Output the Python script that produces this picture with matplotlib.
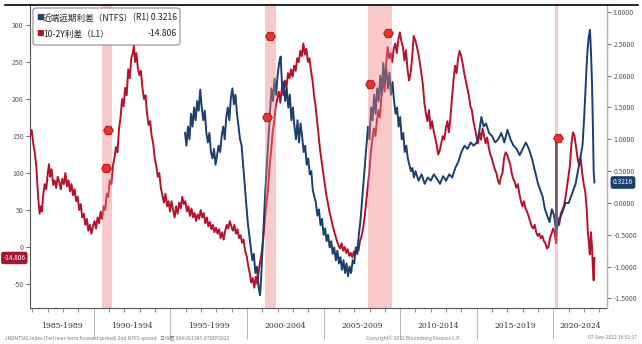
import matplotlib.pyplot as plt
from matplotlib.patches import FancyBboxPatch
from matplotlib.lines import Line2D
import matplotlib.transforms as mtransforms

plt.rcParams['font.family'] = ['Noto Sans CJK SC', 'DejaVu Sans']

# 10-2Y 利差 (bp), 左轴
red_t = [1985.84, 1985.95, 1986.05, 1986.15, 1986.25, 1986.32, 1986.40, 1986.47, 1986.55, 1986.62,
         1986.70, 1986.80, 1986.90, 1987.00, 1987.08, 1987.15, 1987.25, 1987.35, 1987.45, 1987.55,
         1987.65, 1987.75, 1987.85, 1987.95, 1988.05, 1988.15, 1988.25, 1988.35, 1988.45, 1988.55,
         1988.65, 1988.75, 1988.85, 1988.95, 1989.05, 1989.15, 1989.25, 1989.35, 1989.45, 1989.55,
         1989.65, 1989.75, 1989.85, 1989.95, 1990.05, 1990.15, 1990.25, 1990.35, 1990.45, 1990.55,
         1990.65, 1990.75, 1990.85, 1990.95, 1991.05, 1991.15, 1991.25, 1991.35, 1991.45, 1991.55,
         1991.65, 1991.75, 1991.85, 1991.95, 1992.05, 1992.15, 1992.25, 1992.35, 1992.45, 1992.55,
         1992.62, 1992.70, 1992.78, 1992.88, 1992.98, 1993.08, 1993.18, 1993.28, 1993.38, 1993.48,
         1993.58, 1993.68, 1993.78, 1993.88, 1993.98, 1994.08, 1994.18, 1994.28, 1994.38, 1994.48,
         1994.58, 1994.68, 1994.78, 1994.88, 1994.98, 1995.08, 1995.18, 1995.28, 1995.38, 1995.48,
         1995.58, 1995.68, 1995.78, 1995.88, 1995.98, 1996.08, 1996.18, 1996.28, 1996.38, 1996.48,
         1996.58, 1996.68, 1996.78, 1996.88, 1996.98, 1997.08, 1997.18, 1997.28, 1997.38, 1997.48,
         1997.58, 1997.68, 1997.78, 1997.88, 1997.98, 1998.08, 1998.18, 1998.28, 1998.38, 1998.48,
         1998.58, 1998.68, 1998.78, 1998.88, 1998.98, 1999.08, 1999.18, 1999.28, 1999.38, 1999.48,
         1999.58, 1999.68, 1999.78, 1999.88, 1999.98, 2000.08, 2000.18, 2000.28, 2000.38, 2000.48,
         2000.58, 2000.68, 2000.78, 2000.88, 2000.98, 2001.08, 2001.18, 2001.28, 2001.38, 2001.48,
         2001.58, 2001.68, 2001.78, 2001.88, 2001.98, 2002.08, 2002.18, 2002.28, 2002.38, 2002.48,
         2002.58, 2002.68, 2002.78, 2002.88, 2002.98, 2003.08, 2003.18, 2003.28, 2003.38, 2003.48,
         2003.58, 2003.68, 2003.78, 2003.88, 2003.98, 2004.08, 2004.18, 2004.28, 2004.38, 2004.48,
         2004.58, 2004.68, 2004.78, 2004.88, 2004.98, 2005.08, 2005.18, 2005.28, 2005.38, 2005.48,
         2005.58, 2005.68, 2005.78, 2005.88, 2005.98, 2006.08, 2006.18, 2006.28, 2006.38, 2006.48,
         2006.58, 2006.68, 2006.78, 2006.88, 2006.98, 2007.08, 2007.18, 2007.28, 2007.38, 2007.48,
         2007.58, 2007.68, 2007.78, 2007.88, 2007.98, 2008.08, 2008.18, 2008.28, 2008.38, 2008.48,
         2008.58, 2008.68, 2008.78, 2008.88, 2008.98, 2009.08, 2009.18, 2009.28, 2009.38, 2009.48,
         2009.58, 2009.68, 2009.78, 2009.88, 2009.98, 2010.08, 2010.18, 2010.28, 2010.38, 2010.48,
         2010.58, 2010.68, 2010.78, 2010.88, 2010.98, 2011.08, 2011.18, 2011.28, 2011.38, 2011.48,
         2011.58, 2011.68, 2011.78, 2011.88, 2011.98, 2012.08, 2012.18, 2012.28, 2012.38, 2012.48,
         2012.58, 2012.68, 2012.78, 2012.88, 2012.98, 2013.08, 2013.18, 2013.28, 2013.38, 2013.48,
         2013.58, 2013.68, 2013.78, 2013.88, 2013.98, 2014.08, 2014.18, 2014.28, 2014.38, 2014.48,
         2014.58, 2014.68, 2014.78, 2014.88, 2014.98, 2015.08, 2015.18, 2015.28, 2015.38, 2015.48,
         2015.58, 2015.68, 2015.78, 2015.88, 2015.98, 2016.08, 2016.18, 2016.28, 2016.38, 2016.48,
         2016.58, 2016.68, 2016.78, 2016.88, 2016.98, 2017.08, 2017.18, 2017.28, 2017.38, 2017.48,
         2017.58, 2017.68, 2017.78, 2017.88, 2017.98, 2018.08, 2018.18, 2018.28, 2018.38, 2018.48,
         2018.58, 2018.68, 2018.78, 2018.88, 2018.98, 2019.08, 2019.18, 2019.28, 2019.38, 2019.48,
         2019.58, 2019.68, 2019.78, 2019.88, 2019.98, 2020.08, 2020.18, 2020.28, 2020.38, 2020.48,
         2020.58, 2020.68, 2020.78, 2020.88, 2020.98, 2021.08, 2021.18, 2021.28, 2021.38, 2021.48,
         2021.58, 2021.68, 2021.78, 2021.88, 2021.98, 2022.08, 2022.18, 2022.25, 2022.32, 2022.38,
         2022.45, 2022.52, 2022.58, 2022.63, 2022.68]
red_v = [150, 158, 140, 128, 110, 85, 60, 45, 55, 48,
         70, 85, 78, 100, 112, 95, 105, 84, 90, 80,
         95, 88, 78, 92, 85, 100, 82, 90, 75, 85,
         70, 78, 62, 68, 50, 58, 40, 45, 30, 38,
         22, 30, 18, 28, 35, 25, 40, 32, 48, 38,
         55, 50, 72, 68, 90, 85, 110, 120, 135, 128,
         160, 175, 200, 190, 215, 205, 240, 228, 255, 262,
         272, 250, 262, 242, 232, 238, 215, 200, 205, 180,
         165, 170, 150, 140, 120, 110, 95, 100, 80, 70,
         60, 72, 55, 62, 48, 62, 50, 40, 55, 45,
         60, 52, 68, 58, 62, 48, 55, 42, 52, 40,
         46, 35, 44, 38, 50, 40, 46, 32, 40, 28,
         34, 24, 30, 20, 26, 18, 24, 12, 20, 10,
         22, 30, 25, 35, 28, 22, 30, 18, 24, 12,
         16, 6, 10, -5, -12, -25, -35, -48, -42, -55,
         -40, -50, -30, -18, -5, 15, 40, 60, 80, 110,
         130, 155, 170, 190, 200, 210, 195, 215, 205, 225,
         215, 235, 228, 240, 230, 245, 238, 255, 250, 265,
         258, 275, 260, 268, 250, 255, 238, 225, 205, 190,
         170, 150, 130, 115, 100, 85, 70, 60, 48, 40,
         30, 22, 15, 8, 2, -2, 5, -5, 0, -8,
         -3, -12, -8, -14, -6, -10, 0, -5, 8, 15,
         25, 40, 60, 80, 100, 125, 145, 160, 150, 170,
         185, 175, 205, 230, 210, 245, 270, 255, 262, 250,
         268, 275, 262, 280, 290, 278, 270, 252, 266, 240,
         225, 235, 255, 285, 280, 272, 262, 250, 235, 220,
         195, 180, 170, 185, 160, 170, 158, 148, 138, 125,
         130, 140, 150, 145, 160, 170, 155, 175, 200, 225,
         245, 235, 255, 265, 258, 248, 235, 225, 215, 205,
         190, 185, 170, 160, 150, 140, 155, 145, 160, 150,
         140, 148, 135, 125, 120, 112, 105, 100, 90, 85,
         95, 100, 120, 128, 125, 118, 112, 100, 92, 88,
         80, 85, 72, 62, 55, 62, 52, 48, 42, 35,
         28, 25, 30, 20, 15, 18, 12, 15, 8, 5,
         -2, 0, 12, 18, 25, 20, 5, 40, 30, 45,
         50, 55, 65, 80, 95, 110, 140, 155, 150, 135,
         120, 110, 120, 100, 85, 75, 50, 20, 5, -10,
         20, 0, -30, -45, -14.806]

# 近端远期利差 NTFS (%), 右轴
blue_t = [1995.96, 1996.05, 1996.15, 1996.25, 1996.35, 1996.45, 1996.55, 1996.65, 1996.75, 1996.85,
          1996.95, 1997.05, 1997.15, 1997.25, 1997.35, 1997.45, 1997.55, 1997.65, 1997.75, 1997.85,
          1997.95, 1998.05, 1998.15, 1998.25, 1998.35, 1998.45, 1998.55, 1998.65, 1998.75, 1998.85,
          1998.95, 1999.05, 1999.15, 1999.25, 1999.35, 1999.45, 1999.55, 1999.65, 1999.75, 1999.85,
          1999.95, 2000.05, 2000.15, 2000.25, 2000.35, 2000.45, 2000.55, 2000.65, 2000.75, 2000.85,
          2000.92, 2001.00, 2001.10, 2001.20, 2001.30, 2001.40, 2001.50, 2001.60, 2001.70, 2001.80,
          2001.90, 2002.00, 2002.10, 2002.20, 2002.30, 2002.40, 2002.50, 2002.60, 2002.70, 2002.80,
          2002.90, 2003.00, 2003.10, 2003.20, 2003.30, 2003.40, 2003.50, 2003.60, 2003.70, 2003.80,
          2003.90, 2004.00, 2004.10, 2004.20, 2004.30, 2004.40, 2004.50, 2004.60, 2004.70, 2004.80,
          2004.90, 2005.00, 2005.10, 2005.20, 2005.30, 2005.40, 2005.50, 2005.60, 2005.70, 2005.80,
          2005.90, 2006.00, 2006.10, 2006.20, 2006.30, 2006.40, 2006.50, 2006.60, 2006.70, 2006.80,
          2006.90, 2007.00, 2007.10, 2007.20, 2007.30, 2007.40, 2007.50, 2007.60, 2007.70, 2007.80,
          2007.90, 2008.00, 2008.10, 2008.20, 2008.30, 2008.40, 2008.50, 2008.60, 2008.70, 2008.80,
          2008.90, 2009.00, 2009.10, 2009.20, 2009.30, 2009.40, 2009.50, 2009.60, 2009.70, 2009.80,
          2009.90, 2010.00, 2010.10, 2010.20, 2010.30, 2010.40, 2010.50, 2010.60, 2010.70, 2010.80,
          2010.90, 2011.00, 2011.20, 2011.40, 2011.60, 2011.80, 2012.00, 2012.20, 2012.40, 2012.60,
          2012.80, 2013.00, 2013.20, 2013.40, 2013.60, 2013.80, 2014.00, 2014.20, 2014.40, 2014.60,
          2014.80, 2015.00, 2015.15, 2015.30, 2015.45, 2015.60, 2015.80, 2016.00, 2016.20, 2016.40,
          2016.60, 2016.80, 2017.00, 2017.20, 2017.40, 2017.60, 2017.80, 2018.00, 2018.20, 2018.40,
          2018.60, 2018.80, 2019.00, 2019.15, 2019.30, 2019.45, 2019.60, 2019.75, 2019.90, 2020.05,
          2020.18, 2020.20, 2020.22, 2020.35, 2020.50, 2020.65, 2020.80, 2021.00, 2021.15, 2021.30,
          2021.45, 2021.60, 2021.75, 2021.90, 2022.00, 2022.10, 2022.20, 2022.30, 2022.39, 2022.45,
          2022.52, 2022.58, 2022.63, 2022.68]
blue_v = [1.10, 0.90, 1.20, 1.00, 1.40, 1.20, 1.50, 1.30, 1.60, 1.45,
          1.78, 1.50, 1.30, 1.45, 1.10, 0.95, 1.10, 0.80, 0.70, 0.85,
          0.60, 0.75, 0.90, 0.80, 1.05, 1.20, 1.00, 1.35, 1.50, 1.30,
          1.65, 1.80, 1.55, 1.70, 1.40, 1.20, 1.00, 0.90, 0.60, 0.30,
          0.00, -0.30, -0.50, -0.70, -0.90, -0.80, -1.10, -1.00, -1.30, -1.45,
          -1.20, -0.80, -0.30, 0.20, 0.60, 1.00, 1.40, 1.80, 1.60, 1.95,
          1.70, 2.00, 2.20, 2.30, 1.80, 1.90, 1.60, 1.80, 1.50, 1.70,
          1.30, 1.50, 1.20, 1.00, 1.30, 0.95, 1.25, 1.05, 0.80, 0.90,
          0.60, 0.70, 0.45, 0.50, 0.20, 0.10, 0.00, -0.20, -0.10, -0.35,
          -0.25, -0.50, -0.40, -0.60, -0.50, -0.70, -0.60, -0.80, -0.70, -0.90,
          -0.75, -0.95, -0.85, -1.05, -0.90, -1.10, -0.95, -1.15, -1.00, -1.10,
          -0.90, -0.95, -0.70, -0.80, -0.50, -0.30, 0.00, 0.30, 0.60, 0.90,
          1.20, 1.00, 1.50, 1.30, 1.70, 1.40, 1.80, 1.60, 2.00, 1.70,
          2.20, 1.90, 2.10, 1.80, 2.05, 1.70, 1.90, 1.60, 1.40, 1.50,
          1.20, 1.35, 1.00, 1.10, 0.80, 0.90, 0.70, 0.60, 0.50, 0.55,
          0.40, 0.50, 0.35, 0.45, 0.30, 0.40, 0.35, 0.45, 0.38, 0.30,
          0.42, 0.35, 0.45, 0.40, 0.55, 0.65, 0.80, 0.90, 0.85, 0.95,
          0.90, 0.95, 1.10, 1.35, 1.20, 1.25, 1.10, 1.05, 0.95, 1.00,
          1.10, 0.95, 1.15, 1.00, 0.90, 0.85, 0.75, 0.85, 0.95, 0.85,
          0.70, 0.50, 0.30, 0.20, 0.10, -0.10, -0.20, -0.30, -0.10, -0.20,
          -0.45, 1.00, -0.40, -0.30, -0.20, -0.10, 0.00, 0.00, 0.10, 0.20,
          0.30, 0.50, 0.70, 0.90, 1.30, 1.80, 2.30, 2.60, 2.72, 2.40,
          1.90, 1.20, 0.50, 0.3216]

# 经济衰退区间
recessions = [(1990.54, 1991.21), (2001.17, 2001.87), (2007.92, 2009.46), (2020.10, 2020.30)]

# 事件标记 (左轴位置)
event_t = [1990.80, 1990.93, 2001.31, 2001.50, 2008.03, 2009.20, 2020.30]
event_v = [107, 158, 176, 285, 220, 289, 147]

period_starts = [1985, 1990, 1995, 2000, 2005, 2010, 2015, 2020]
period_labels = ['1985-1989', '1990-1994', '1995-1999', '2000-2004',
                 '2005-2009', '2010-2014', '2015-2019', '2020-2024']

left_ticks = [-50, 0, 50, 100, 150, 200, 250, 300]
right_ticks = [-1.5, -1.0, -0.5, 0.0, 0.5, 1.0, 1.5, 2.0, 2.5, 3.0]

RED = '#b5122e'
BLUE = '#1d3f6e'
x0, x1 = 1985.84, 2023.5

fig = plt.figure(figsize=(6.42, 3.44), dpi=100)
ax = fig.add_axes([30 / 642, 1 - 308 / 344, 577 / 642, 303 / 344])
ax2 = ax.twinx()

ax.plot(red_t, red_v, color=RED, lw=1.4, zorder=3)
ax2.plot(blue_t, blue_v, color=BLUE, lw=1.4, zorder=3)

for a, b in recessions:
    ax2.axvspan(a, b, color='#f08080', alpha=0.42, lw=0, zorder=4)

ax2.plot(event_t, event_v, 'H', ms=7, color='#e8322c', mec='#a01010', mew=0.6,
         transform=ax.transData, zorder=6, clip_on=False)

ax.set_xlim(x0, x1)
ax.set_ylim(-82.4, 327)
ax2.set_ylim(-1.65, 3.11)

ax.set_yticks(left_ticks)
ax.set_yticklabels([str(v) for v in left_ticks])
ax2.set_yticks(right_ticks)
ax2.set_yticklabels(['%.4f' % v for v in right_ticks])

for a in (ax, ax2):
    a.spines['top'].set_visible(False)
    a.tick_params(axis='y', labelsize=5, colors='#555555', length=3, width=0.6, pad=1.5)
ax.spines['left'].set_color('#555555')
ax.spines['bottom'].set_color('#555555')
ax2.spines['right'].set_color('#c8b78a')
ax2.spines['left'].set_visible(False)
ax2.spines['bottom'].set_visible(False)

# 年份刻度与五年分隔线
ax.set_xticks(list(range(1986, 2024)), minor=True)
ax.set_xticks(period_starts[1:])
ax.set_xticklabels([])
ax.tick_params(axis='x', which='minor', length=3, width=0.6, color='#777777')
ax.tick_params(axis='x', which='major', length=22, width=0.5, color='#999999')

trans = mtransforms.blended_transform_factory(ax.transData, ax.transAxes)
for s, lab in zip(period_starts, period_labels):
    lo, hi = max(s, x0), min(s + 5, x1)
    ax.text((lo + hi) / 2, -0.058, lab, transform=trans, ha='center', va='center',
            fontsize=5.5, color='#333333', family=['DejaVu Serif'])

# 最新值标签
ax.annotate('%.3f' % red_v[-1], xy=(0, red_v[-1]), xycoords=('axes fraction', 'data'),
            xytext=(-11.3, 0), textcoords='offset points', ha='center', va='center',
            fontsize=4.6, color='white', annotation_clip=False,
            bbox=dict(boxstyle='round,pad=0.35', fc='#a81530', ec='none'))
ax2.annotate('%.4f' % blue_v[-1], xy=(1, blue_v[-1]), xycoords=('axes fraction', 'data'),
             xytext=(11.5, 0), textcoords='offset points', ha='center', va='center',
             fontsize=4.8, color='white', annotation_clip=False,
             bbox=dict(boxstyle='round,pad=0.35', fc='#1d3f6e', ec='none'))

# 图例
fig.patches.append(FancyBboxPatch((33 / 642, 1 - 45 / 344), 147 / 642, 37 / 344,
                                  boxstyle='round,pad=0,rounding_size=0.006',
                                  transform=fig.transFigure, fc='white', ec='#888888',
                                  lw=0.8, alpha=0.95, zorder=10))
rows = [('近端远期利差（NTFS）', '(R1) 0.3216', BLUE, 18),
        ('10-2Y利差（L1）', '-14.806', RED, 34)]
for name, val, c, py in rows:
    fy = 1 - py / 344
    fig.text(36 / 642, fy, '■', color=c, fontsize=5.5, va='center', zorder=11)
    fig.text(43 / 642, fy, name, color='#222222', fontsize=6.2, va='center', zorder=11)
    fig.text(177 / 642, fy, val, color='#222222', fontsize=6.2, va='center', ha='right', zorder=11)

# 顶部黑线
fig.add_artist(Line2D([5 / 642, 638 / 642], [1 - 5 / 344, 1 - 5 / 344],
                      transform=fig.transFigure, color='black', lw=1.2))

# 页脚
fig.text(5 / 642, 0.018, 'JNDNTSIG Index (Fed near-term forward spread) 2nd NTFS spread   日线图 06AUG1985-07SEP2022',
         fontsize=3.5, color='#777777', va='center')
fig.text(413 / 642, 0.018, 'Copyright© 2022 Bloomberg Finance L.P.', fontsize=3.5,
         color='#777777', va='center', ha='center')
fig.text(637 / 642, 0.018, '07-Sep-2022 16:51:17', fontsize=3.5, color='#777777',
         va='center', ha='right')

fig.savefig('out.png', dpi=100)
